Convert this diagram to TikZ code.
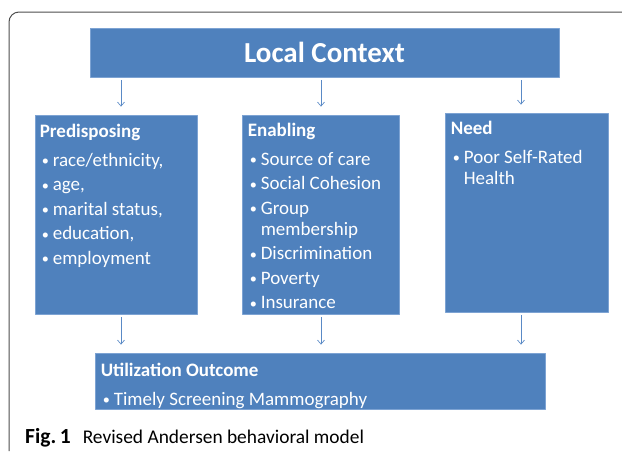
\documentclass[tikz,border=0pt]{standalone}
\usepackage{fontspec}
\setmainfont{Carlito}
\usetikzlibrary{arrows.meta}

\definecolor{boxblue}{HTML}{4F81BD}
\definecolor{boxline}{HTML}{7DA3D3}
\definecolor{flowblue}{HTML}{5A8AC6}
\definecolor{framegray}{HTML}{4D4D4D}

% bullet and the indent of a wrapped line
\newcommand{\bul}{\makebox[13pt][l]{\hspace{2pt}\raisebox{0.5pt}{\scalebox{0.75}{\textbullet}}}}
\newcommand{\cont}{\hspace*{13pt}}
\newcommand{\head}[1]{{\bfseries #1}}

\begin{document}
\begin{tikzpicture}[x=1pt,y=-1pt,>={Straight Barb[length=4pt,width=7pt]},line join=bevel,
  block/.style={draw=boxline,fill=boxblue,line width=0.8pt,inner sep=0pt},
  blocktext/.style={anchor=north west,inner sep=0pt,align=left,text=white,
    font=\fontsize{19}{21}\selectfont},
  flow/.style={flowblue,line width=0.7pt,->,shorten <=3pt,shorten >=8pt}]

 \useasboundingbox (0,0) rectangle (622,451);
 \draw [framegray,line width=1pt,rounded corners=10pt] (9,451) -- (9,12) -- (622,12);

 \node (node_ctx) at (324.5,52.5) [block,minimum width=469,minimum height=49,
   text=white,font=\fontsize{29}{32}\selectfont\bfseries] {Local Context};

 \node (node_pre) at (116,214.5) [block,minimum width=162,minimum height=199] {};
 \node (node_ena) at (320.5,214.5) [block,minimum width=157,minimum height=199] {};
 \node (node_need) at (526.5,212.5) [block,minimum width=163,minimum height=199] {};
 \node (node_use) at (320,381) [block,minimum width=450,minimum height=56] {};

 \node (text_pre) at ([shift={(5,9)}]node_pre.north west) [blocktext] {%
   \head{Predisposing}\\[8pt]
   \bul race/ethnicity,\\[3.5pt]
   \bul age,\\[3.5pt]
   \bul marital status,\\[3.5pt]
   \bul education,\\[3.5pt]
   \bul employment};
 \node (text_ena) at ([shift={(6,8)}]node_ena.north west) [blocktext] {%
   \head{Enabling}\\[8pt]
   \bul Source of care\\[3.5pt]
   \bul Social Cohesion\\[3.5pt]
   \bul Group\\
   \cont membership\\[3.5pt]
   \bul Discrimination\\[3.5pt]
   \bul Poverty\\[3.5pt]
   \bul Insurance};
 \node (text_need) at ([shift={(6,8)}]node_need.north west) [blocktext] {%
   \head{Need}\\[8pt]
   \bul Poor Self-Rated\\
   \cont Health};
 \node (text_use) at ([shift={(6,10)}]node_use.north west) [blocktext] {%
   \head{Utilization Outcome}\\[8pt]
   \bul Timely Screening Mammography};

 \node (caption) at (25,443) [anchor=base west,inner sep=0pt,
   font=\fontsize{19.4}{23}\selectfont] {{\fontsize{21.5}{23}\selectfont\textbf{Fig.\,1}}\hspace{12pt}Revised Andersen behavioral model};

 % arrows run on three evenly spaced columns
 \coordinate (col_1) at (121,0);
 \coordinate (col_2) at (321,0);
 \coordinate (col_3) at (521,0);

 \draw [flow] (node_ctx.south -| col_1) -- (node_pre.north -| col_1);
 \draw [flow] (node_ctx.south -| col_2) -- (node_ena.north -| col_2);
 \draw [flow] (node_ctx.south -| col_3) -- (node_need.north -| col_3);
 \draw [flow] (node_pre.south -| col_1) -- (node_use.north -| col_1);
 \draw [flow] (node_ena.south -| col_2) -- (node_use.north -| col_2);
 \draw [flow] (node_need.south -| col_3) -- (node_use.north -| col_3);
\end{tikzpicture}
\end{document}
